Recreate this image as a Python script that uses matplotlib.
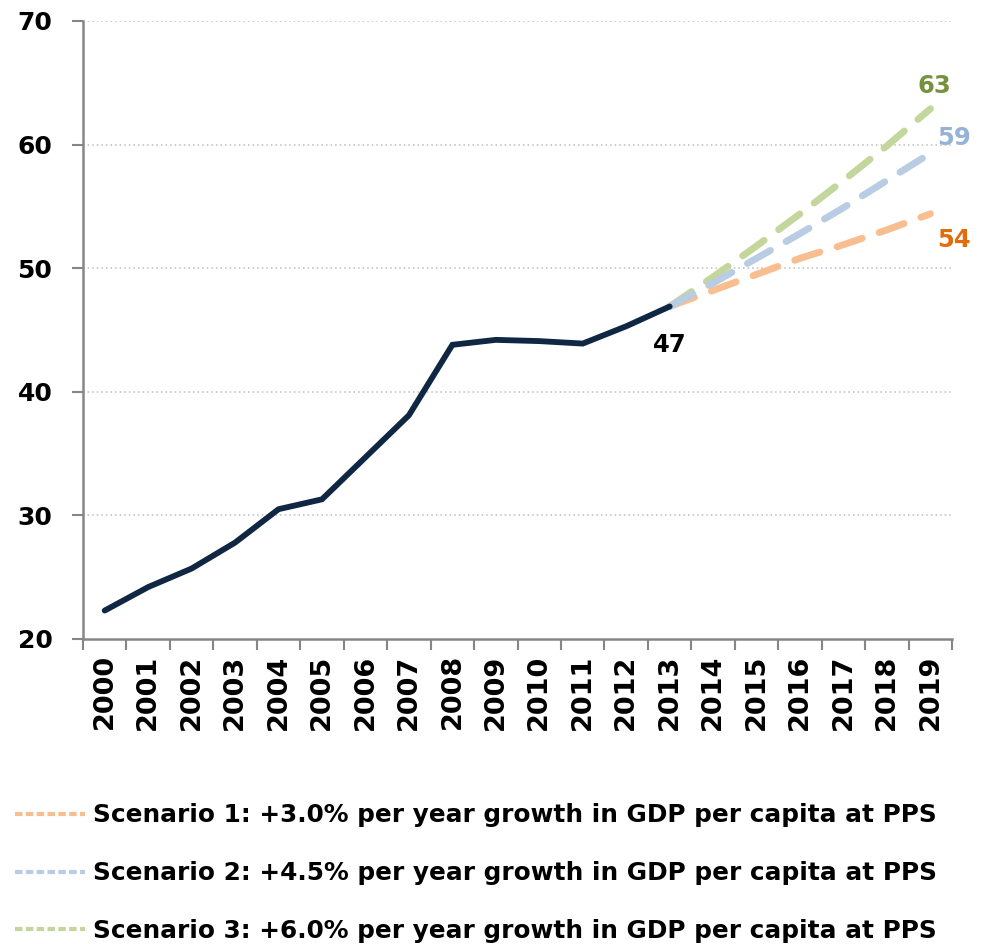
import numpy as np
import matplotlib
matplotlib.use("Agg")
import matplotlib.pyplot as plt
from matplotlib.lines import Line2D

# Data
years = [str(y) for y in range(2000, 2020)]
actual = [22.3, 24.2, 25.7, 27.8, 30.5, 31.3, 34.7, 38.1, 43.8, 44.2,
          44.1, 43.9, 45.3, 46.9]
scen_years = list(range(13, 20))  # 2013..2019 as category index
scen1 = [46.9, 48.2, 49.5, 50.8, 51.9, 53.1, 54.4]
scen2 = [46.9, 48.8, 50.8, 52.8, 54.9, 57.1, 59.3]
scen3 = [46.9, 49.3, 51.8, 54.4, 57.1, 59.9, 62.9]
labels = ["Scenario 1: +3.0% per year growth in GDP per capita at PPS",
          "Scenario 2: +4.5% per year growth in GDP per capita at PPS",
          "Scenario 3: +6.0% per year growth in GDP per capita at PPS"]

navy = "#0f2743"
c1, c2, c3 = "#f9be8f", "#b8cce4", "#c3d69b"
t1, t2, t3 = "#e36c09", "#95b3d7", "#76923c"
grey = "#868686"

plt.rcParams['font.family'] = ['DejaVu Sans']
plt.rcParams['font.weight'] = 'bold'

fig = plt.figure(figsize=(9.9, 9.44), dpi=100)
ax = fig.add_axes([0.0838, 0.3231, 0.878, 0.6547])

x = np.arange(len(actual))
dash = (3.8, 2.6)
for vals, col in [(scen1, c1), (scen3, c3), (scen2, c2)]:
    ln, = ax.plot(scen_years, vals, color=col, lw=5, solid_capstyle='round',
                  dash_capstyle='round')
    ln.set_dashes(dash)
ax.plot(x, actual, color=navy, lw=4.2, solid_capstyle='round',
        solid_joinstyle='miter', zorder=5)

ax.set_xlim(-0.5, 19.5)
ax.set_ylim(20, 70)
ax.set_yticks(range(20, 71, 10))
ax.set_xticks(np.arange(20))
ax.set_xticklabels(years, rotation=90, fontsize=19.5, fontweight='bold')
ax.set_xticks(np.arange(-0.5, 20, 1), minor=True)
ax.tick_params(axis='x', which='major', length=0, pad=11)
ax.tick_params(axis='x', which='minor', length=8, width=1.5, color=grey,
               direction='out')
ax.tick_params(axis='y', length=8, width=1.5, color=grey, pad=14,
               labelsize=18)
for lab in ax.get_yticklabels():
    lab.set_fontweight('bold')

for y in range(30, 71, 10):
    ax.axhline(y, color='#bdbdbd', lw=1.1, ls=(0, (1, 2)), zorder=0)

for s in ['top', 'right']:
    ax.spines[s].set_visible(False)
for s in ['left', 'bottom']:
    ax.spines[s].set_color(grey)
    ax.spines[s].set_linewidth(1.8)

fs = 17.5
ax.annotate("63", (19, scen3[-1]), xytext=(3, 16), textcoords='offset points',
            ha='center', va='center', color=t3, fontsize=fs, fontweight='bold')
ax.annotate("59", (19, scen2[-1]), xytext=(17, 11), textcoords='offset points',
            ha='center', va='center', color=t2, fontsize=fs, fontweight='bold')
ax.annotate("54", (19, scen1[-1]), xytext=(17, -19), textcoords='offset points',
            ha='center', va='center', color=t1, fontsize=fs, fontweight='bold')
ax.annotate("47", (13, actual[-1]), xytext=(0, -28), textcoords='offset points',
            ha='center', va='center', color='black', fontsize=fs,
            fontweight='bold')

handles = [Line2D([], [], color=c, lw=3, dashes=(1.8, 0.8)) for c in (c1, c2, c3)]
leg = fig.legend(handles, labels, loc='upper left', bbox_to_anchor=(0.015, 0.149),
                 frameon=False, handlelength=2.85, handletextpad=0.3,
                 labelspacing=1.37, borderaxespad=0, borderpad=0,
                 prop={'size': 17.8, 'weight': 'bold'})

fig.savefig("out.png", dpi=100)
